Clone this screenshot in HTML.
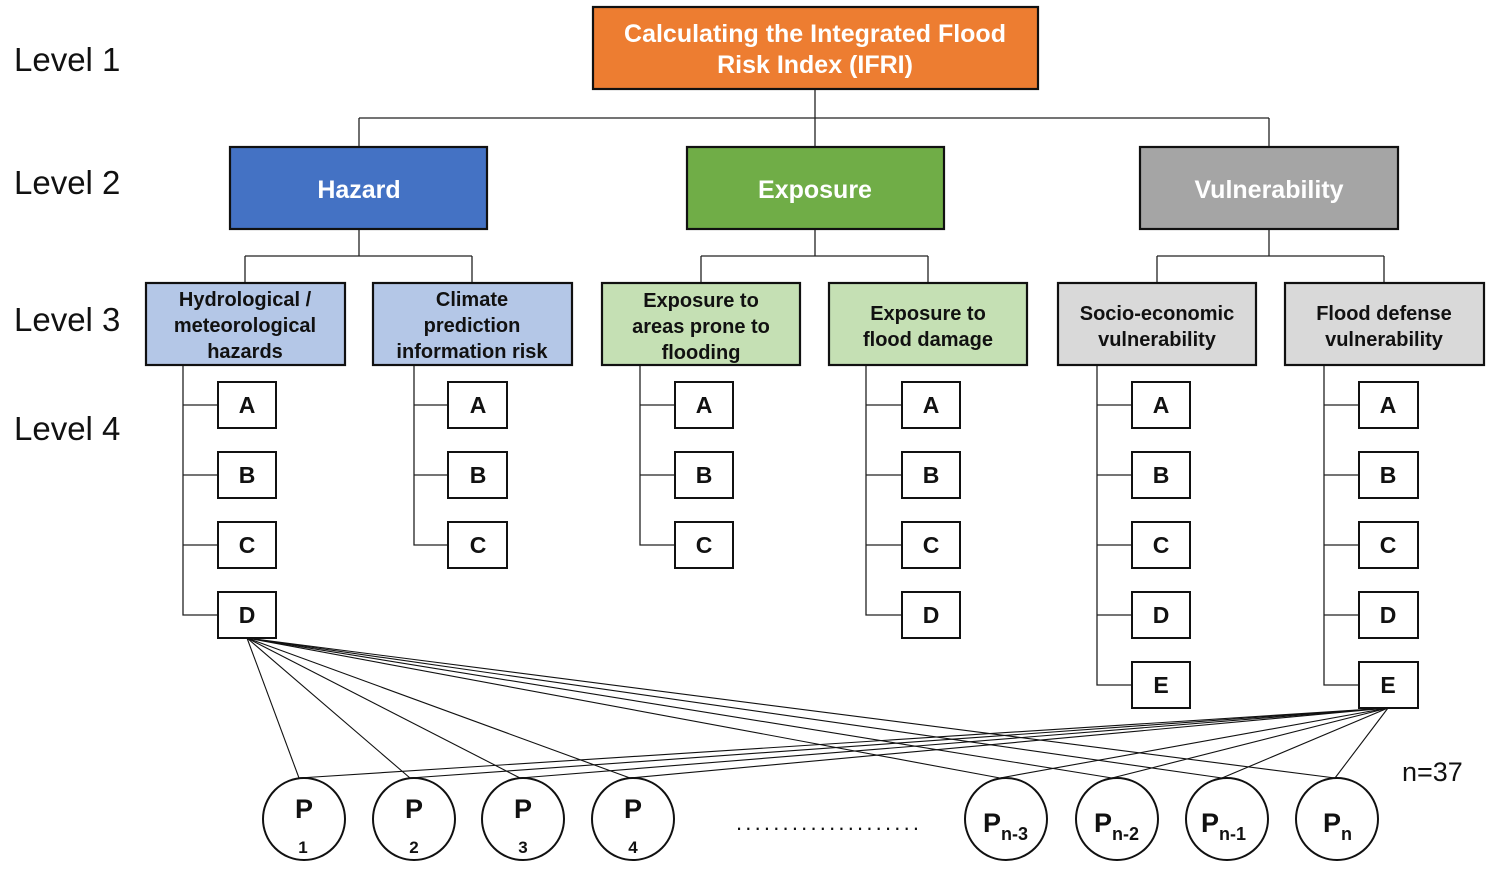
<!DOCTYPE html>
<html><head><meta charset="utf-8"><style>
html,body{margin:0;padding:0;background:#fff;}
svg{display:block;font-family:"Liberation Sans","Noto Sans CJK KR",sans-serif;}
</style></head><body>
<svg width="1495" height="870" viewBox="0 0 1495 870" xmlns="http://www.w3.org/2000/svg">
<g font-size="33" fill="#111">
<text x="14" y="71">Level 1</text>
<text x="14" y="194">Level 2</text>
<text x="14" y="331">Level 3</text>
<text x="14" y="440">Level 4</text>
</g>
<g stroke="#222" stroke-width="1.3" fill="none">
<path d="M815 89V118M359 118H1269M359 118V147M815 118V147M1269 118V147"/>
<path d="M359 229V256M245 256H472M245 256V283M472 256V283"/>
<path d="M815 229V256M701 256H928M701 256V283M928 256V283"/>
<path d="M1269 229V256M1157 256H1384M1157 256V283M1384 256V283"/>
<path d="M183 365V615H218M183 405H218M183 475H218M183 545H218"/>
<path d="M414 365V545H448M414 405H448M414 475H448"/>
<path d="M640 365V545H675M640 405H675M640 475H675"/>
<path d="M866 365V615H902M866 405H902M866 475H902M866 545H902"/>
<path d="M1097 365V685H1132M1097 405H1132M1097 475H1132M1097 545H1132M1097 615H1132"/>
<path d="M1324 365V685H1359M1324 405H1359M1324 475H1359M1324 545H1359M1324 615H1359"/>
</g>
<g stroke="#111" stroke-width="1.1">
<line x1="247" y1="638" x2="299" y2="778"/><line x1="247" y1="638" x2="410" y2="778"/><line x1="247" y1="638" x2="520" y2="778"/><line x1="247" y1="638" x2="630" y2="778"/>
<line x1="247" y1="638" x2="1000" y2="778"/><line x1="247" y1="638" x2="1112" y2="778"/><line x1="247" y1="638" x2="1222" y2="778"/><line x1="247" y1="638" x2="1335" y2="778"/>
<line x1="1388" y1="708" x2="299" y2="778"/><line x1="1388" y1="708" x2="410" y2="778"/><line x1="1388" y1="708" x2="520" y2="778"/><line x1="1388" y1="708" x2="630" y2="778"/>
<line x1="1388" y1="708" x2="1000" y2="778"/><line x1="1388" y1="708" x2="1112" y2="778"/><line x1="1388" y1="708" x2="1222" y2="778"/><line x1="1388" y1="708" x2="1335" y2="778"/>
</g>
<g stroke="#111" stroke-width="2.2">
<rect x="593" y="7" width="445" height="82" fill="#ED7D31"/>
<rect x="230" y="147" width="257" height="82" fill="#4472C4"/>
<rect x="687" y="147" width="257" height="82" fill="#70AD47"/>
<rect x="1140" y="147" width="258" height="82" fill="#A5A5A5"/>
<rect x="146" y="283" width="199" height="82" fill="#B4C7E7"/>
<rect x="373" y="283" width="199" height="82" fill="#B4C7E7"/>
<rect x="602" y="283" width="198" height="82" fill="#C5E0B4"/>
<rect x="829" y="283" width="198" height="82" fill="#C5E0B4"/>
<rect x="1058" y="283" width="198" height="82" fill="#D9D9D9"/>
<rect x="1285" y="283" width="199" height="82" fill="#D9D9D9"/>
</g>
<g fill="#fff" font-weight="bold" font-size="25" text-anchor="middle">
<text x="815" y="42">Calculating the Integrated Flood</text>
<text x="815" y="73">Risk Index (IFRI)</text>
<text x="359" y="198">Hazard</text>
<text x="815" y="198">Exposure</text>
<text x="1269" y="198">Vulnerability</text>
</g>
<g fill="#111" font-weight="bold" font-size="20" text-anchor="middle">
<text x="245" y="306">Hydrological /</text><text x="245" y="332">meteorological</text><text x="245" y="358">hazards</text>
<text x="472" y="306">Climate</text><text x="472" y="332">prediction</text><text x="472" y="358">information risk</text>
<text x="701" y="307">Exposure to</text><text x="701" y="333">areas prone to</text><text x="701" y="359">flooding</text>
<text x="928" y="320">Exposure to</text><text x="928" y="346">flood damage</text>
<text x="1157" y="320">Socio-economic</text><text x="1157" y="346">vulnerability</text>
<text x="1384" y="320">Flood defense</text><text x="1384" y="346">vulnerability</text>
</g>
<g stroke="#111" stroke-width="2" fill="#fff">
<rect x="218" y="382" width="58" height="46"/><rect x="218" y="452" width="58" height="46"/><rect x="218" y="522" width="58" height="46"/><rect x="218" y="592" width="58" height="46"/>
<rect x="448" y="382" width="59" height="46"/><rect x="448" y="452" width="59" height="46"/><rect x="448" y="522" width="59" height="46"/>
<rect x="675" y="382" width="58" height="46"/><rect x="675" y="452" width="58" height="46"/><rect x="675" y="522" width="58" height="46"/>
<rect x="902" y="382" width="58" height="46"/><rect x="902" y="452" width="58" height="46"/><rect x="902" y="522" width="58" height="46"/><rect x="902" y="592" width="58" height="46"/>
<rect x="1132" y="382" width="58" height="46"/><rect x="1132" y="452" width="58" height="46"/><rect x="1132" y="522" width="58" height="46"/><rect x="1132" y="592" width="58" height="46"/><rect x="1132" y="662" width="58" height="46"/>
<rect x="1359" y="382" width="59" height="46"/><rect x="1359" y="452" width="59" height="46"/><rect x="1359" y="522" width="59" height="46"/><rect x="1359" y="592" width="59" height="46"/><rect x="1359" y="662" width="59" height="46"/>
</g>
<g fill="#111" font-weight="bold" font-size="23" text-anchor="middle">
<text x="247" y="413">A</text><text x="247" y="483">B</text><text x="247" y="553">C</text><text x="247" y="623">D</text>
<text x="478" y="413">A</text><text x="478" y="483">B</text><text x="478" y="553">C</text>
<text x="704" y="413">A</text><text x="704" y="483">B</text><text x="704" y="553">C</text>
<text x="931" y="413">A</text><text x="931" y="483">B</text><text x="931" y="553">C</text><text x="931" y="623">D</text>
<text x="1161" y="413">A</text><text x="1161" y="483">B</text><text x="1161" y="553">C</text><text x="1161" y="623">D</text><text x="1161" y="693">E</text>
<text x="1388" y="413">A</text><text x="1388" y="483">B</text><text x="1388" y="553">C</text><text x="1388" y="623">D</text><text x="1388" y="693">E</text>
</g>
<g stroke="#111" stroke-width="2" fill="#fff">
<circle cx="304" cy="819" r="41"/><circle cx="414" cy="819" r="41"/><circle cx="523" cy="819" r="41"/><circle cx="633" cy="819" r="41"/>
<circle cx="1006" cy="819" r="41"/><circle cx="1117" cy="819" r="41"/><circle cx="1227" cy="819" r="41"/><circle cx="1337" cy="819" r="41"/>
</g>
<g fill="#111" font-weight="bold" text-anchor="middle">
<g font-size="27"><text x="304" y="818">P</text><text x="414" y="818">P</text><text x="523" y="818">P</text><text x="633" y="818">P</text></g>
<g font-size="17"><text x="303" y="853">1</text><text x="414" y="853">2</text><text x="523" y="853">3</text><text x="633" y="853">4</text></g>
</g>
<g fill="#111" font-weight="bold">
<text x="983" y="832" font-size="27">P<tspan font-size="18" dy="8">n-3</tspan></text>
<text x="1094" y="832" font-size="27">P<tspan font-size="18" dy="8">n-2</tspan></text>
<text x="1201" y="832" font-size="27">P<tspan font-size="18" dy="8">n-1</tspan></text>
<text x="1323" y="832" font-size="27">P<tspan font-size="18" dy="8">n</tspan></text>
</g>
<text x="736" y="830" font-size="22" fill="#111" letter-spacing="3.2">....................</text>
<text x="1402" y="781" font-size="27" fill="#111">n=37</text>
</svg>
</body></html>
